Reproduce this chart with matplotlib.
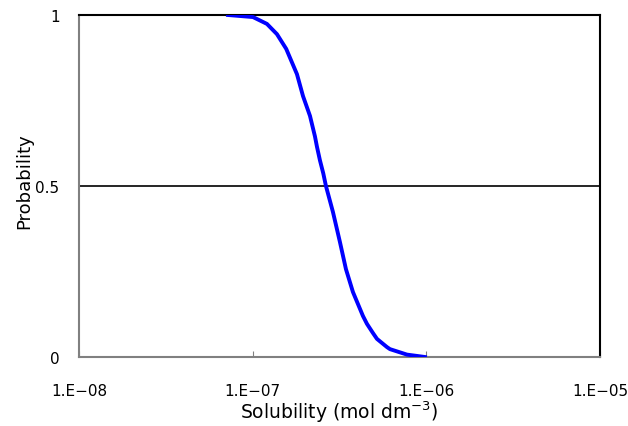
import numpy as np
import matplotlib
matplotlib.use('Agg')
import matplotlib.pyplot as plt

# points (solubility in mol dm-3, probability)
solubility = [7.21e-8, 1.004e-7, 1.208e-7, 1.380e-7, 1.436e-7, 1.560e-7,
              1.799e-7, 1.949e-7, 2.138e-7, 2.284e-7, 2.345e-7,
              2.440e-7, 2.550e-7, 2.642e-7, 2.899e-7, 3.181e-7, 3.444e-7,
              3.779e-7, 4.315e-7, 4.550e-7, 4.928e-7, 5.196e-7,
              5.933e-7, 6.174e-7, 7.734e-7, 9.815e-7]
probability = [1.0, 0.994, 0.974, 0.944, 0.930, 0.901,
               0.827, 0.763, 0.705, 0.645, 0.615,
               0.575, 0.537, 0.500, 0.424, 0.336, 0.257,
               0.190, 0.120, 0.097, 0.070, 0.053,
               0.029, 0.023, 0.007, 0.0]

xtick_vals = [1e-8, 1e-7, 1e-6, 1e-5]
xtick_labels = ['1.E\u221208', '1.E\u221207', '1.E\u221206', '1.E\u221205']
ytick_vals = [0, 0.5, 1]
ytick_labels = ['0', '0.5', '1']

fig = plt.figure(figsize=(6.28, 4.27), dpi=100)
ax = fig.add_axes([79/628, 1 - 358/427, (600-79)/628, (358-16)/427])
ax.set_xscale('log')
ax.set_xlim(1e-8, 1e-5)
ax.set_ylim(0, 1)

ax.axhline(0.5, color='black', lw=1.2, zorder=1)
ax.plot(solubility, probability, color='#0000ff', lw=2.8, zorder=3)

ax.set_xticks(xtick_vals)
ax.set_xticklabels(xtick_labels, fontsize=11)
ax.minorticks_off()
ax.set_yticks(ytick_vals)
ax.set_yticklabels(ytick_labels, fontsize=11)
ax.tick_params(axis='x', direction='in', length=4, color='#808080', pad=19)
ax.tick_params(axis='y', length=0, pad=14)

for side in ['left', 'bottom']:
    ax.spines[side].set_color('#808080')
    ax.spines[side].set_linewidth(1.5)
for side in ['top', 'right']:
    ax.spines[side].set_color('black')
    ax.spines[side].set_linewidth(1.5)

ax.set_xlabel('Solubility (mol dm$^{-3}$)', fontsize=13.5, labelpad=0)
ax.set_ylabel('Probability', fontsize=13)
ax.yaxis.set_label_coords(-0.087, 0.517)

fig.savefig('out.png', dpi=100)
